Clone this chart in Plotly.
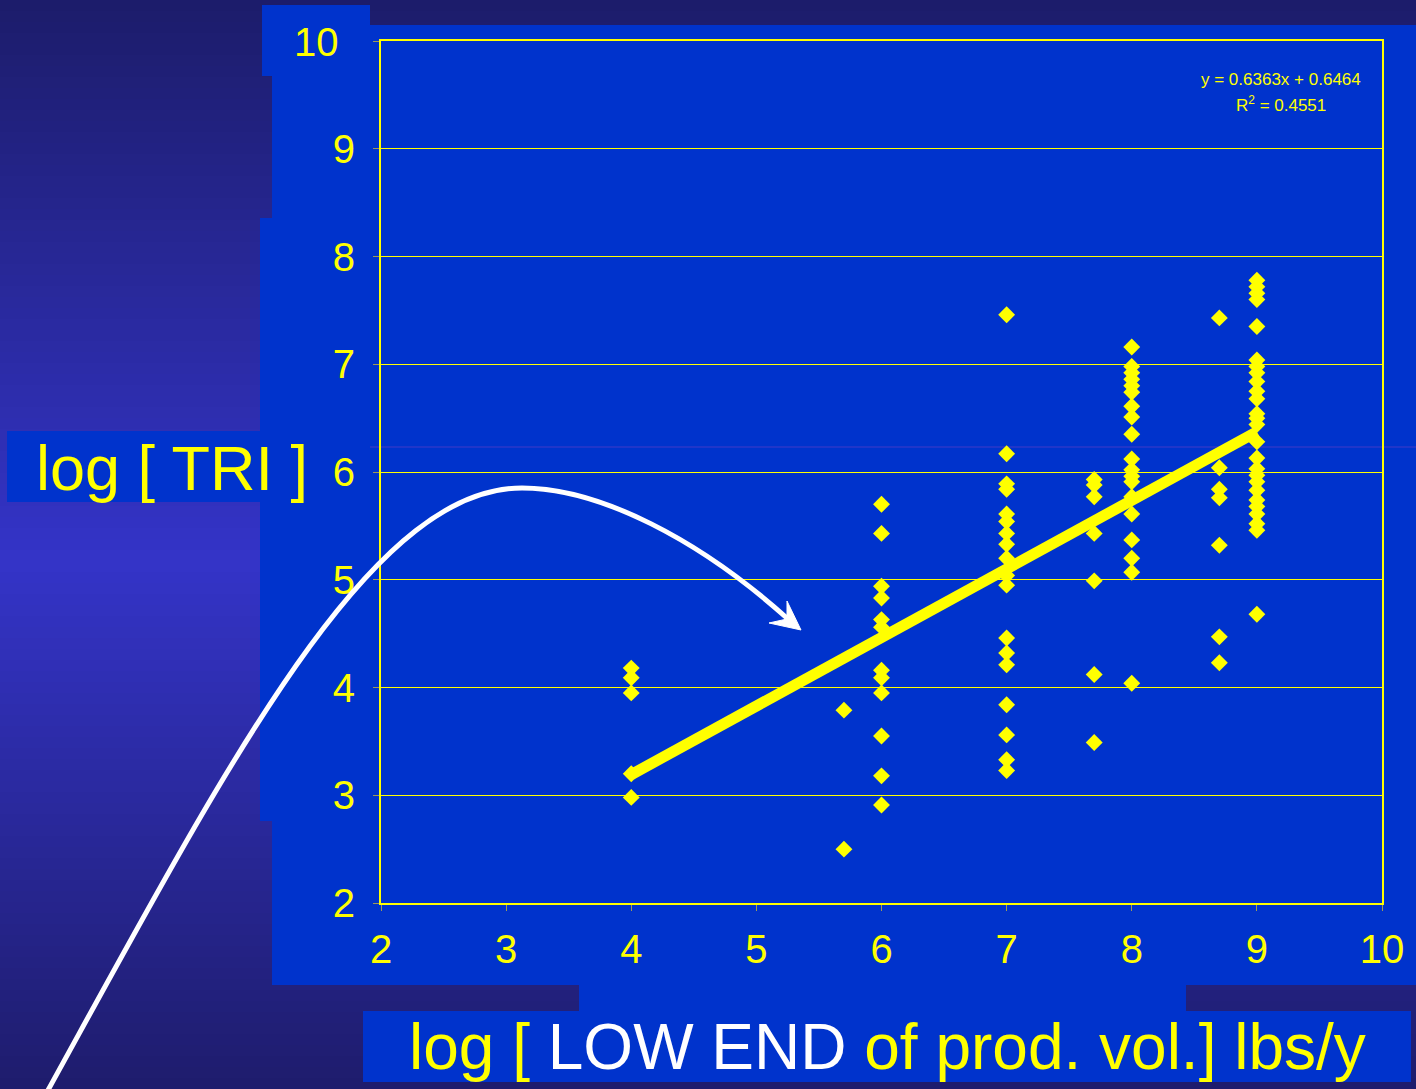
import plotly.graph_objects as go

# ---------------- data ----------------
col_x = [4, 5.7, 6, 7, 7.7, 8, 8.7, 9]
tri_x4 = [4.18, 4.09, 3.95, 3.20, 2.98]
tri_x57 = [3.79, 2.50]
tri_x6 = [5.70, 5.43, 4.94, 4.83, 4.63, 4.56, 4.16, 4.09, 3.95, 3.55, 3.18, 2.91]
tri_x7 = [7.46, 6.17, 5.89, 5.84, 5.61, 5.54, 5.43, 5.33, 5.20, 5.04, 4.95,
          4.46, 4.32, 4.21, 3.84, 3.56, 3.33, 3.23]
tri_x77 = [5.93, 5.88, 5.77, 5.43, 4.99, 4.12, 3.49]
tri_x8 = [7.16, 6.98, 6.92, 6.86, 6.80, 6.74, 6.61, 6.51, 6.35, 6.12, 6.02,
          5.96, 5.91, 5.77, 5.61, 5.37, 5.20, 5.07, 4.04]
tri_x87 = [7.43, 6.04, 5.84, 5.76, 5.32, 4.47, 4.23]
tri_x9 = [7.78, 7.72, 7.66, 7.60, 7.35, 7.04, 6.98, 6.92, 6.84, 6.75, 6.68,
          6.54, 6.50, 6.44, 6.28, 6.13, 6.03, 5.97, 5.91, 5.83, 5.74, 5.68,
          5.61, 5.52, 5.46, 4.68]
columns = [tri_x4, tri_x57, tri_x6, tri_x7, tri_x77, tri_x8, tri_x87, tri_x9]

trend_slope = 0.6363
trend_intercept = 0.6464
trend_r2 = 0.4551
trend_x = [4, 9]

axis_ticks = [2, 3, 4, 5, 6, 7, 8, 9, 10]
y_ticktext = ["2", "3", "4", "5", "6", "7", "8", "9", " "]
x_ticktext = ["2", "3", "4", "5", "6", "7", "8", "9", "10"]

# ---------------- style ----------------
YEL = "#FFFF00"
BLUE = "#0033CC"
TICKC = "#9a9a5a"
FONT = "Liberation Sans, Arial, sans-serif"
W, H = 1416, 1089
L, R, T, B = 381, 1382, 41, 903


def pxx(x):
    return (x - L) / (R - L)


def pxy(y):
    return (B - y) / (B - T)


xs, ys = [], []
for cx, vals in zip(col_x, columns):
    for v in vals:
        xs.append(cx)
        ys.append(v)

trend_y = [trend_slope * x + trend_intercept for x in trend_x]

fig = go.Figure()
fig.add_trace(go.Scatter(
    x=xs, y=ys, mode="markers",
    marker=dict(symbol="diamond", size=13, color=YEL, line=dict(width=0)),
    hoverinfo="skip", showlegend=False))
fig.add_trace(go.Scatter(
    x=trend_x, y=trend_y, mode="lines",
    line=dict(color=YEL, width=11), hoverinfo="skip", showlegend=False))

shapes = []
# background gradient
N = 99
top = (28, 28, 106)
mid = (52, 52, 200)
bot = (30, 28, 108)
ymid = 560
for i in range(N):
    y0 = i * H / N
    y1 = (i + 1) * H / N + 0.6
    yc = (y0 + y1) / 2
    if yc < ymid:
        t = yc / ymid
        c = [top[k] + (mid[k] - top[k]) * t for k in range(3)]
    else:
        t = (yc - ymid) / (H - ymid)
        c = [mid[k] + (bot[k] - mid[k]) * t for k in range(3)]
    col = "rgb(%d,%d,%d)" % tuple(int(round(v)) for v in c)
    shapes.append(dict(type="rect", xref="paper", yref="paper", layer="below",
                       x0=pxx(0), x1=pxx(W), y0=pxy(y0), y1=pxy(y1),
                       fillcolor=col, line=dict(width=0)))

# blue boxes
for (x0, y0, x1, y1) in [(262, 5, 370, 76), (272, 25, 1416, 985),
                         (260, 218, 272, 821), (579, 984, 1186, 1012),
                         (363, 1011, 1411, 1082), (7, 431, 260, 502)]:
    shapes.append(dict(type="rect", xref="paper", yref="paper", layer="below",
                       x0=pxx(x0), x1=pxx(x1), y0=pxy(y0), y1=pxy(y1),
                       fillcolor=BLUE, line=dict(width=0)))

# faint seam line
shapes.append(dict(type="line", xref="paper", yref="paper", layer="below",
                   x0=pxx(370), x1=pxx(1416), y0=pxy(447), y1=pxy(447),
                   line=dict(color="rgba(80,60,200,0.8)", width=1)))


def P(x, y):
    return "%.5f,%.5f" % (pxx(x), pxy(y))


curve = ("M " + P(47, 1092) + " C " + P(230, 760) + " " + P(370, 488) + " " + P(522, 488)
         + " C " + P(600, 488) + " " + P(700, 540) + " " + P(788, 619))
shapes.append(dict(type="path", xref="paper", yref="paper", layer="above",
                   path=curve, line=dict(color="white", width=5)))
head = ("M " + P(801, 630) + " L " + P(787, 601) + " L " + P(787, 619)
        + " L " + P(769, 623) + " Z")
shapes.append(dict(type="path", xref="paper", yref="paper", layer="above",
                   path=head, fillcolor="white", line=dict(color="white", width=1)))

annotations = [
    dict(xref="paper", yref="paper", x=pxx(1281), y=pxy(80),
         text="y = %.4fx + %.4f" % (trend_slope, trend_intercept),
         showarrow=False, xanchor="center", yanchor="middle",
         font=dict(family=FONT, size=17, color=YEL)),
    dict(xref="paper", yref="paper", x=pxx(1281), y=pxy(104),
         text="R<sup>2</sup> = %.4f" % trend_r2,
         showarrow=False, xanchor="center", yanchor="middle",
         font=dict(family=FONT, size=17, color=YEL)),
    dict(xref="paper", yref="paper", x=pxx(316), y=pxy(42),
         text="10", showarrow=False, xanchor="center", yanchor="middle",
         font=dict(family=FONT, size=40, color=YEL)),
    dict(xref="paper", yref="paper", x=pxx(172), y=pxy(468),
         text="log [ TRI ]", showarrow=False, xanchor="center", yanchor="middle",
         font=dict(family=FONT, size=63, color=YEL)),
    dict(xref="paper", yref="paper", x=pxx(887), y=pxy(1047),
         text="log [ <span style='color:white'>LOW END</span> of prod. vol.] lbs/y",
         showarrow=False, xanchor="center", yanchor="middle",
         font=dict(family=FONT, size=64, color=YEL)),
]

axis_common = dict(range=[2, 10], tickvals=axis_ticks, ticks="outside", ticklen=6,
                   tickcolor=TICKC, tickwidth=1, showline=True, mirror=True,
                   linecolor=YEL, linewidth=2, zeroline=False,
                   tickfont=dict(family=FONT, size=40, color=YEL))

fig.update_layout(
    width=W, height=H, autosize=False,
    margin=dict(l=L, r=W - R, t=T, b=H - B, pad=0),
    paper_bgcolor="rgb(28,28,106)", plot_bgcolor="rgba(0,0,0,0)",
    xaxis=dict(showgrid=False, ticklabelstandoff=4, ticktext=x_ticktext, **axis_common),
    yaxis=dict(showgrid=True, gridcolor=YEL, gridwidth=1, ticklabelstandoff=10,
               ticktext=y_ticktext, **axis_common),
    shapes=shapes, annotations=annotations, showlegend=False,
)

fig.write_html("out.html", config={"displayModeBar": False},
               post_script="document.body.style.margin='0';document.body.style.padding='0';"
                           "document.documentElement.style.overflow='hidden';")
